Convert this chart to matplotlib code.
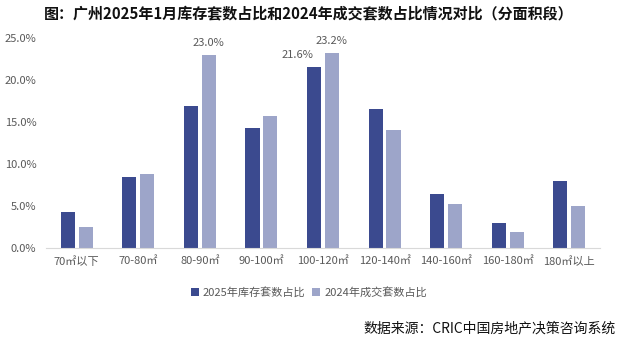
import matplotlib.pyplot as plt
import numpy as np

plt.rcParams['font.family'] = ['Noto Sans CJK SC', 'DejaVu Sans']

categories = ['70㎡以下', '70-80㎡', '80-90㎡', '90-100㎡', '100-120㎡',
              '120-140㎡', '140-160㎡', '160-180㎡', '180㎡以上']
stock_2025 = [4.3, 8.5, 16.9, 14.3, 21.6, 16.5, 6.4, 3.0, 8.0]
deal_2024 = [2.5, 8.8, 23.0, 15.7, 23.2, 14.0, 5.2, 1.9, 5.0]
label_stock = '2025年库存套数占比'
label_deal = '2024年成交套数占比'
yticks = [0, 5, 10, 15, 20, 25]

dark = '#3B4A8F'
light = '#9DA5C9'
gray = '#595959'

fig = plt.figure(figsize=(6.18, 3.40), dpi=100)
ax = fig.add_axes([0.0744, 0.2706, 0.8966, 0.6174])

x = np.arange(len(categories))
w = 0.23
b1 = ax.bar(x - 0.145, stock_2025, w, color=dark, label=label_stock)
b2 = ax.bar(x + 0.145, deal_2024, w, color=light, label=label_deal)

# only a few bars carry value labels; 21.6% is nudged left like the original
for bars, vals, idxs, dx in ((b1, stock_2025, [4], -12), (b2, deal_2024, [2, 4], 0)):
    for i in idxs:
        r = bars[i]
        ax.annotate('%.1f%%' % vals[i], (r.get_x() + r.get_width() / 2, vals[i]),
                    xytext=(dx, 5), textcoords='offset points', ha='center',
                    va='bottom', fontsize=8, color=gray)

ax.set_xlim(-0.5, len(categories) - 0.5)
ax.set_ylim(0, 25)
ax.set_yticks(yticks)
ax.set_yticklabels(['%.1f%%' % v for v in yticks])
ax.set_xticks(x)
ax.set_xticklabels(categories)
ax.tick_params(axis='both', length=0, colors=gray, labelsize=8)
ax.tick_params(axis='y', pad=7)
ax.tick_params(axis='x', pad=6)
for s in ('top', 'right', 'left'):
    ax.spines[s].set_visible(False)
ax.spines['bottom'].set_color('#D9D9D9')

leg = fig.legend(loc='center', bbox_to_anchor=(0.5, 0.141), ncol=2, frameon=False,
                 fontsize=8, handlelength=0.7, handleheight=0.7,
                 handletextpad=0.4, columnspacing=0.6)
for t in leg.get_texts():
    t.set_color(gray)

fig.text(0.5, 0.962, '图：广州2025年1月库存套数占比和2024年成交套数占比情况对比（分面积段）',
         ha='center', va='center', fontsize=10.8, fontweight='bold', color='#111111')
fig.text(0.997, 0.035, '数据来源：CRIC中国房地产决策咨询系统', ha='right',
         va='center', fontsize=10, color='#111111')

fig.savefig('out.png', dpi=100)
